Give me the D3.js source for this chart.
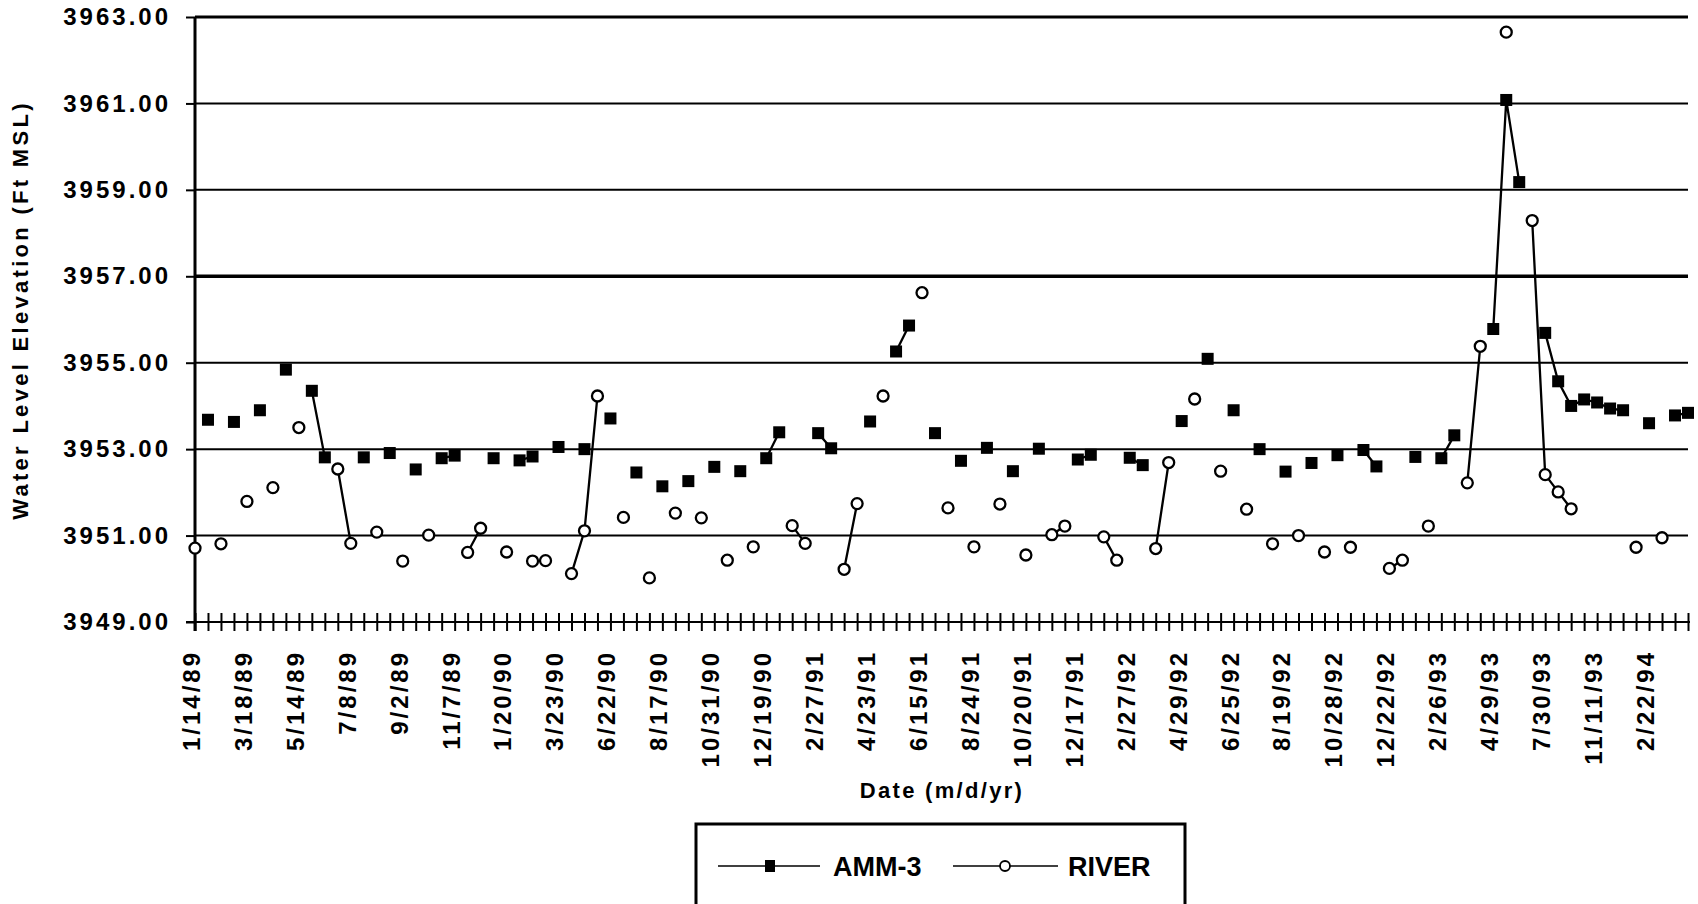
<!DOCTYPE html>
<html>
<head>
<meta charset="utf-8">
<script src="https://d3js.org/d3.v7.min.js"></script>
<style>
  body { margin: 0; background: #fff; }
  text { font-family: "Liberation Sans", Arial, Helvetica, sans-serif; font-weight: bold; fill: #000; }
</style>
</head>
<body>
<script>
    // category axis: one tick per sampling date, a label on every 4th
    const nCategories = 116;
    const labelEvery = 4;
    const tickLabels = ["1/14/89", "3/18/89", "5/14/89", "7/8/89", "9/2/89", "11/7/89",
        "1/20/90", "3/23/90", "6/22/90", "8/17/90", "10/31/90", "12/19/90",
        "2/27/91", "4/23/91", "6/15/91", "8/24/91", "10/20/91", "12/17/91",
        "2/27/92", "4/29/92", "6/25/92", "8/19/92", "10/28/92", "12/22/92",
        "2/26/93", "4/29/93", "7/30/93", "11/11/93", "2/22/94"];

    const yTicks = [3949, 3951, 3953, 3955, 3957, 3959, 3961, 3963];

    // [category index, elevation]
    const amm3 = [[1, 3953.68], [3, 3953.63], [5, 3953.90], [7, 3954.84], [9, 3954.35], [10, 3952.81],
        [13, 3952.81], [15, 3952.91], [17, 3952.53], [19, 3952.79], [20, 3952.85], [23, 3952.79],
        [25, 3952.74], [26, 3952.83], [28, 3953.05], [30, 3953.00], [32, 3953.71], [34, 3952.46],
        [36, 3952.14], [38, 3952.26], [40, 3952.59], [42, 3952.49], [44, 3952.79], [45, 3953.39],
        [48, 3953.37], [49, 3953.02], [52, 3953.64], [54, 3955.26], [55, 3955.86], [57, 3953.37],
        [59, 3952.73], [61, 3953.03], [63, 3952.49], [65, 3953.01], [68, 3952.76], [69, 3952.87],
        [72, 3952.80], [73, 3952.63], [76, 3953.65], [78, 3955.09], [80, 3953.90], [82, 3953.00],
        [84, 3952.48], [86, 3952.68], [88, 3952.86], [90, 3952.98], [91, 3952.60], [94, 3952.82],
        [96, 3952.79], [97, 3953.32], [100, 3955.78], [101, 3961.08], [102, 3959.18], [104, 3955.69],
        [105, 3954.57], [106, 3954.00], [107, 3954.15], [108, 3954.08], [109, 3953.94], [110, 3953.90],
        [112, 3953.60], [114, 3953.78], [115, 3953.84]];

    const river = [[0, 3950.71], [2, 3950.81], [4, 3951.79], [6, 3952.11], [8, 3953.50], [11, 3952.54],
        [12, 3950.82], [14, 3951.08], [16, 3950.41], [18, 3951.01], [21, 3950.61], [22, 3951.17],
        [24, 3950.62], [26, 3950.41], [27, 3950.42], [29, 3950.12], [30, 3951.11], [31, 3954.23],
        [33, 3951.42], [35, 3950.02], [37, 3951.52], [39, 3951.41], [41, 3950.43], [43, 3950.74],
        [46, 3951.23], [47, 3950.82], [50, 3950.22], [51, 3951.74], [53, 3954.23], [56, 3956.62],
        [58, 3951.64], [60, 3950.74], [62, 3951.73], [64, 3950.55], [66, 3951.02], [67, 3951.22],
        [70, 3950.97], [71, 3950.43], [74, 3950.70], [75, 3952.69], [77, 3954.16], [79, 3952.49],
        [81, 3951.61], [83, 3950.81], [85, 3951.00], [87, 3950.62], [89, 3950.73], [92, 3950.24],
        [93, 3950.43], [95, 3951.22], [98, 3952.22], [99, 3955.38], [101, 3962.65], [103, 3958.29],
        [104, 3952.41], [105, 3952.01], [106, 3951.62], [111, 3950.73], [113, 3950.95]];

    let width = 1698, height = 904;
    let plotLeft = 195, plotRight = 1688, plotTop = 17, plotBottom = 622;

    // full series with gaps, so the line only joins neighbouring dates
    function dense(pairs) {
        let arr = d3.range(nCategories).map(i => ({i: i, v: null}));
        pairs.forEach(p => arr[p[0]].v = p[1]);
        return arr;
    }

    let svg = d3.select("body").append("svg")
        .attr("width", width)
        .attr("height", height);

    let x = d3.scalePoint()
        .domain(d3.range(nCategories))
        .range([plotLeft, plotRight]);

    let y = d3.scaleLinear()
        .domain([3949, 3963])
        .range([plotBottom, plotTop]);

    // gridlines
    svg.append("g")
        .selectAll("line")
        .data(yTicks.filter(d => d > 3949))
        .join("line")
            .attr("x1", plotLeft)
            .attr("x2", plotRight)
            .attr("y1", d => y(d))
            .attr("y2", d => y(d))
            .attr("stroke", "#000")
            .attr("stroke-width", d => d == 3963 ? 3 : (d == 3957 ? 3.5 : 2));

    // y axis
    let yAxis = svg.append("g")
        .attr("transform", `translate(${plotLeft},0)`)
        .call(d3.axisLeft(y).tickValues(yTicks).tickFormat(d3.format(".2f")).tickSize(9).tickPadding(15));
    yAxis.select(".domain").attr("stroke-width", 3).attr("d", `M0,${plotTop}V${plotBottom + 9}`);
    yAxis.selectAll(".tick line").attr("stroke-width", 2);
    yAxis.selectAll(".tick text")
        .style("font-size", "24px")
        .style("letter-spacing", "3px")
        .style("font-family", "\"Liberation Sans\", Arial, sans-serif");

    // x axis with cross ticks
    let xAxis = svg.append("g")
        .attr("transform", `translate(0,${plotBottom})`)
        .call(d3.axisBottom(x)
            .tickFormat(i => i % labelEvery == 0 ? tickLabels[i / labelEvery] : "")
            .tickSize(9));
    xAxis.select(".domain").attr("stroke-width", 2).attr("d", `M${plotLeft - 9},0H${plotRight + 2}`);
    xAxis.selectAll(".tick line").attr("y1", -9).attr("y2", 9).attr("stroke-width", 2);
    xAxis.selectAll(".tick text")
        .style("font-size", "24px")
        .style("letter-spacing", "3px")
        .style("font-family", "\"Liberation Sans\", Arial, sans-serif")
        .attr("text-anchor", "end")
        .attr("transform", "rotate(-90)")
        .attr("x", -28)
        .attr("y", -4)
        .attr("dy", "0.35em");

    // series lines
    let line = d3.line()
        .defined(d => d.v != null)
        .x(d => x(d.i))
        .y(d => y(d.v));

    [amm3, river].forEach(s => {
        svg.append("path")
            .datum(dense(s))
            .attr("fill", "none")
            .attr("stroke", "#000")
            .attr("stroke-width", 2.3)
            .attr("d", line);
    });

    // AMM-3 markers: filled squares
    svg.append("g")
        .selectAll("rect")
        .data(amm3)
        .join("rect")
            .attr("x", d => x(d[0]) - 6)
            .attr("y", d => y(d[1]) - 6)
            .attr("width", 12)
            .attr("height", 12)
            .attr("fill", "#000");

    // RIVER markers: open circles
    svg.append("g")
        .selectAll("circle")
        .data(river)
        .join("circle")
            .attr("cx", d => x(d[0]))
            .attr("cy", d => y(d[1]))
            .attr("r", 5.5)
            .attr("fill", "#fff")
            .attr("stroke", "#000")
            .attr("stroke-width", 2.3);

    // axis titles
    svg.append("text")
        .attr("transform", "translate(28,310) rotate(-90)")
        .attr("text-anchor", "middle")
        .style("font-size", "22px")
        .style("letter-spacing", "3.3px")
        .text("Water Level Elevation (Ft MSL)");

    svg.append("text")
        .attr("x", 942)
        .attr("y", 798)
        .attr("text-anchor", "middle")
        .style("font-size", "22px")
        .style("letter-spacing", "2.3px")
        .text("Date (m/d/yr)");

    // legend
    let legend = svg.append("g");
    legend.append("path")
        .attr("d", "M696,910V824H1185V910")
        .attr("fill", "none")
        .attr("stroke", "#000")
        .attr("stroke-width", 3);

    let ly = 866;
    legend.append("line").attr("x1", 718).attr("x2", 820).attr("y1", ly).attr("y2", ly)
        .attr("stroke", "#000").attr("stroke-width", 1.5);
    legend.append("rect").attr("x", 765).attr("y", ly - 6).attr("width", 10).attr("height", 12)
        .attr("fill", "#000");
    legend.append("text").attr("x", 833).attr("y", ly + 10)
        .style("font-size", "27px").text("AMM-3");

    legend.append("line").attr("x1", 953).attr("x2", 1058).attr("y1", ly).attr("y2", ly)
        .attr("stroke", "#000").attr("stroke-width", 1.5);
    legend.append("circle").attr("cx", 1005).attr("cy", ly).attr("r", 5)
        .attr("fill", "#fff").attr("stroke", "#000").attr("stroke-width", 1.8);
    legend.append("text").attr("x", 1068).attr("y", ly + 10)
        .style("font-size", "27px").text("RIVER");
</script>
</body>
</html>
